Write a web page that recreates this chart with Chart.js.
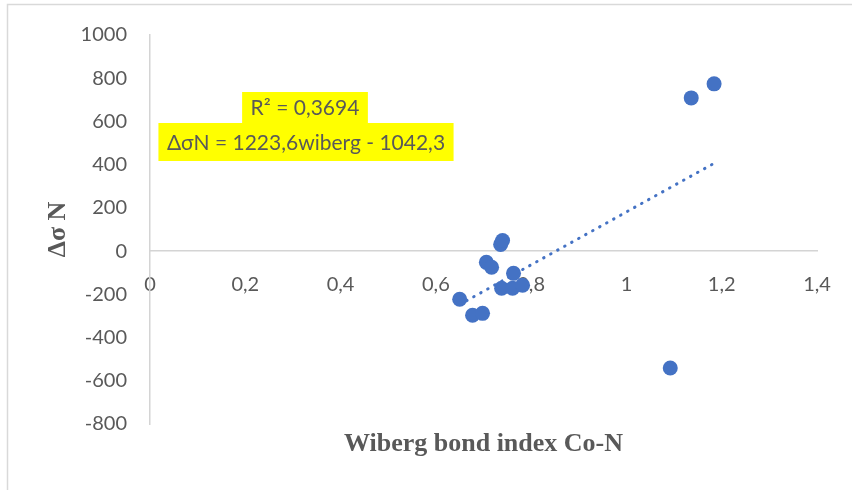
<!DOCTYPE html>
<html>
<head>
<meta charset="utf-8">
<script src="https://cdn.jsdelivr.net/npm/chart.js@4/dist/chart.umd.min.js"></script>
<style>
  html, body { margin: 0; padding: 0; background: #ffffff; }
  #wrap { position: relative; width: 852px; height: 490px; }
</style>
</head>
<body>
<div id="wrap"><canvas id="chart" width="852" height="490"></canvas></div>
<script>
// Wiberg bond index (Co-N) against the nitrogen shift difference
const wibergIndex = [0.650, 0.677, 0.698, 0.706, 0.717, 0.736, 0.740, 0.738, 0.761, 0.763, 0.782, 1.092, 1.136, 1.184];
const deltaSigmaN = [-223, -297, -288, -52, -75, 31, 49, -172, -172, -103, -158, -541, 709, 774];

// Linear fit reported on the chart
const fitSlope = 1223.6;
const fitIntercept = -1042.3;
const fitR2 = 0.3694;

const xTicks = [0, 0.2, 0.4, 0.6, 0.8, 1, 1.2, 1.4];
const yTicks = [-800, -600, -400, -200, 0, 200, 400, 600, 800, 1000];

const xTitle = 'Wiberg bond index Co-N';
const yTitle = 'Δσ N';

const comma = (v, d) => String(Number(v.toFixed(d))).replace('.', ',');

const scatterPoints = wibergIndex.map((x, i) => ({ x, y: deltaSigmaN[i] }));
const xMin = Math.min(...wibergIndex);
const xMax = Math.max(...wibergIndex);
const trendPoints = [xMin, xMax].map(x => ({ x, y: fitSlope * x + fitIntercept }));

const eqLines = [
  'R² = ' + comma(fitR2, 4),
  'ΔσN = ' + comma(fitSlope, 1) + 'wiberg - ' + comma(-fitIntercept, 1)
];

const textGrey = '#595959';
const axisGrey = '#d4d4d4';
const markBlue = '#4472C4';

// Frame, axis captions and the highlighted fit equation
const decorations = {
  id: 'decorations',
  beforeDraw(chart) {
    const ctx = chart.ctx;
    ctx.save();
    ctx.strokeStyle = '#d9d9d9';
    ctx.lineWidth = 1.5;
    ctx.beginPath();
    ctx.moveTo(7.5, 490);
    ctx.lineTo(7.5, 4.5);
    ctx.lineTo(852, 4.5);
    ctx.stroke();
    ctx.restore();
  },
  afterDraw(chart) {
    const ctx = chart.ctx;
    const area = chart.chartArea;
    ctx.save();
    ctx.fillStyle = textGrey;
    ctx.textAlign = 'center';
    ctx.textBaseline = 'middle';
    ctx.font = 'bold 26px "Liberation Serif"';
    ctx.fillText(xTitle, (area.left + area.right) / 2, 444);
    ctx.save();
    ctx.translate(58, (area.top + area.bottom) / 2);
    ctx.rotate(-Math.PI / 2);
    ctx.fillText(yTitle, 0, 0);
    ctx.restore();

    ctx.font = '21px Lato';
    const boxes = [
      { text: eqLines[0], cx: 305, top: 92, h: 31 },
      { text: eqLines[1], cx: 306, top: 123, h: 38 }
    ];
    boxes.forEach(b => {
      const w = ctx.measureText(b.text).width + 17;
      ctx.fillStyle = '#ffff00';
      ctx.fillRect(b.cx - w / 2, b.top, w, b.h);
    });
    boxes.forEach(b => {
      ctx.fillStyle = textGrey;
      ctx.fillText(b.text, b.cx, b.top + b.h / 2 + 1);
    });
    ctx.restore();
  }
};

new Chart(document.getElementById('chart'), {
  type: 'scatter',
  data: {
    datasets: [
      {
        label: 'Δσ N',
        data: scatterPoints,
        backgroundColor: markBlue,
        borderColor: markBlue,
        borderWidth: 0,
        pointRadius: 7.5,
        pointHoverRadius: 7.5,
        order: 1
      },
      {
        type: 'line',
        label: 'Linear fit',
        data: trendPoints,
        borderColor: markBlue,
        borderWidth: 3,
        borderDash: [0.5, 7.5],
        borderCapStyle: 'round',
        pointRadius: 0,
        fill: false,
        order: 2
      }
    ]
  },
  options: {
    responsive: false,
    animation: false,
    devicePixelRatio: 1,
    layout: { padding: { top: 34, bottom: 66, right: 35, left: 0 } },
    plugins: {
      legend: { display: false },
      tooltip: { enabled: false }
    },
    scales: {
      x: {
        type: 'linear',
        position: { y: 0 },
        min: 0,
        max: 1.4,
        afterBuildTicks: s => { s.ticks = xTicks.map(v => ({ value: v })); },
        grid: { display: true, drawOnChartArea: false, drawTicks: false },
        border: { display: true, color: axisGrey, width: 1.5 },
        ticks: {
          padding: 21,
          color: textGrey,
          font: { family: 'Lato', size: 20 },
          maxRotation: 0,
          callback: v => comma(v, 1)
        }
      },
      y: {
        type: 'linear',
        min: -800,
        max: 1000,
        afterBuildTicks: s => { s.ticks = yTicks.map(v => ({ value: v })); },
        afterFit: s => { s.width = 150; },
        grid: { display: true, drawOnChartArea: false, drawTicks: false },
        border: { display: true, color: axisGrey, width: 1.5 },
        ticks: {
          padding: 23,
          color: textGrey,
          font: { family: 'Lato', size: 20 },
          callback: v => String(v)
        }
      }
    }
  },
  plugins: [decorations]
});
</script>
</body>
</html>
